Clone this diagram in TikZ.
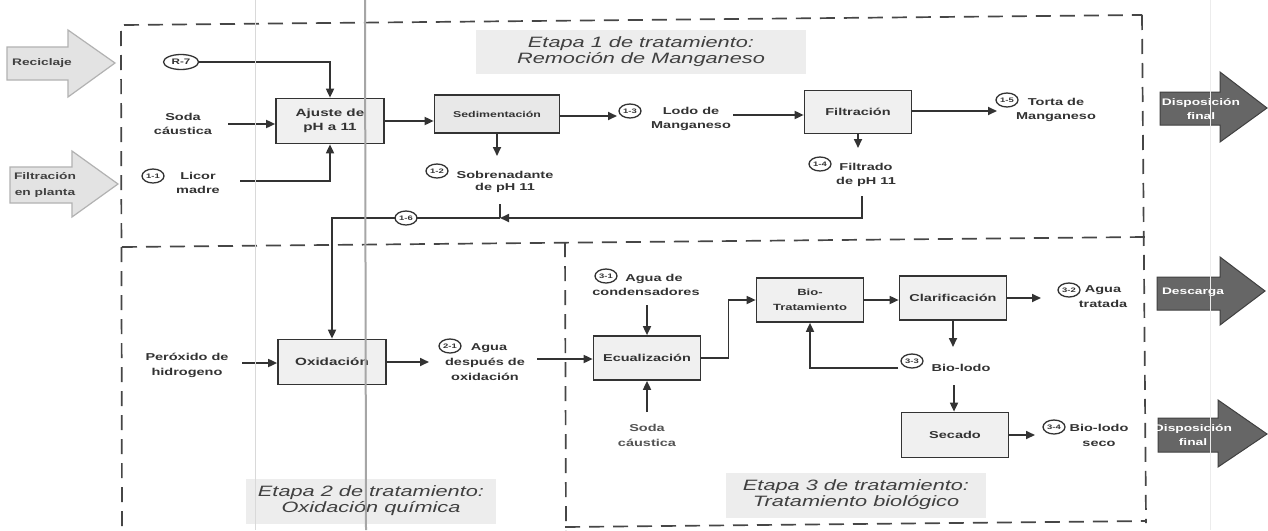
\documentclass[tikz,border=0pt]{standalone}
\usepackage{fontspec}
\setmainfont{Liberation Sans}[FakeStretch=1.45]
\usetikzlibrary{arrows.meta,shapes.geometric,calc}
\definecolor{ink}{HTML}{333333}
\definecolor{dark}{HTML}{666666}
\tikzset{
  box/.style={draw=ink, line width=1.7pt, fill=gray!12, text=ink, align=center, inner sep=1pt,
    font=\bfseries\fontsize{10}{13}\selectfont},
  lbl/.style={text=ink, align=center, inner sep=0pt, font=\bfseries\fontsize{10}{13.5}\selectfont},
  tag/.style={ellipse, draw=ink, line width=1.3pt, fill=white, text=ink, minimum width=22pt,
    minimum height=14pt, inner sep=0pt, font=\bfseries\fontsize{6.5}{7}\selectfont},
  flow/.style={draw=ink, line width=1.7pt, -{Triangle[length=9pt,width=8pt]}},
  link/.style={draw=ink, line width=1.7pt},
  frame/.style={draw=gray!55!black, line width=1.7pt, dash pattern=on 15pt off 9pt},
  ttl/.style={fill=gray!14, text=gray!50!black, align=center, inner sep=0pt,
    font=\itshape\fontsize{15}{16}\selectfont},
  inarrow/.style={fill=gray!22, draw=gray!60, line width=1.2pt},
  outarrow/.style={fill=dark, draw=gray!50!black, line width=1pt},
  intext/.style={text=gray!50!black, align=center, inner sep=0pt, font=\bfseries\fontsize{9.5}{16}\selectfont},
  outtext/.style={text=white, align=center, inner sep=0pt, font=\bfseries\fontsize{9.5}{14.5}\selectfont}
}
\begin{document}
\begin{tikzpicture}[x=1pt,y=-1pt]
\useasboundingbox (0,0) rectangle (1268,530);
\fill[white] (0,0) rectangle (1268,530);

% dashed frames
\draw[frame] (124,25) -- (1142,15);
\draw[frame] (121,31) -- (122,530);
\draw[frame] (122,247) -- (1145,237);
\draw[frame] (1142,15) -- (1146,523);
\draw[frame] (565,527) -- (1146,521);
\draw[frame] (565,242) -- (566,530);

% stage titles
\node[ttl, minimum width=330pt, minimum height=44pt] (ttl1) at (641,52) {Etapa 1 de tratamiento:\\Remoción de Manganeso};
\node[ttl, minimum width=250pt, minimum height=45pt] (ttl2) at (371,501) {Etapa 2 de tratamiento:\\Oxidación química};
\node[ttl, minimum width=260pt, minimum height=45pt] (ttl3) at (856,495) {Etapa 3 de tratamiento:\\Tratamiento biológico};

% input block arrows
\draw[inarrow] (7,47) -- (68,47) -- (68,30) -- (115,63) -- (68,97) -- (68,80) -- (7,80) -- cycle;
\node[intext] (recic) at (42,63) {Reciclaje};
\draw[inarrow] (10,167) -- (72,167) -- (72,151) -- (118,184) -- (72,217) -- (72,203) -- (10,203) -- cycle;
\node[intext] (filtpl) at (45,185) {Filtración\\en planta};

% output block arrows
\draw[outarrow] (1160,92) -- (1220,92) -- (1220,72) -- (1267,108) -- (1220,142) -- (1220,125) -- (1160,125) -- cycle;
\node[outtext] (disp1) at (1201,109) {Disposición\\final};
\draw[outarrow] (1157,277) -- (1220,277) -- (1220,257) -- (1265,291) -- (1220,325) -- (1220,310) -- (1157,310) -- cycle;
\node[outtext] (desc) at (1193,292) {Descarga};
\draw[outarrow] (1158,418) -- (1218,418) -- (1218,400) -- (1267,434) -- (1218,467) -- (1218,452) -- (1158,452) -- cycle;
\node[outtext] (disp2) at (1193,435) {Disposición\\final};

% process boxes
\node[box, minimum width=108pt, minimum height=45pt, font=\bfseries\fontsize{10.5}{14}\selectfont] (ajuste) at (330,121) {Ajuste de\\pH a 11};
\node[box, minimum width=125pt, minimum height=38pt, fill=gray!18, font=\bfseries\fontsize{8.5}{10}\selectfont] (sed) at (497,114) {Sedimentación};
\node[box, minimum width=107pt, minimum height=43pt] (filt) at (858,112) {Filtración};
\node[box, minimum width=108pt, minimum height=45pt, font=\bfseries\fontsize{10.5}{13}\selectfont] (oxid) at (332,362) {Oxidación};
\node[box, minimum width=107pt, minimum height=44pt] (ecual) at (647,358) {Ecualización};
\node[box, minimum width=107pt, minimum height=44pt, font=\bfseries\fontsize{9}{15}\selectfont] (bio) at (810,300) {Bio-\\Tratamiento};
\node[box, minimum width=107pt, minimum height=44pt] (clar) at (953,298) {Clarificación};
\node[box, minimum width=107pt, minimum height=45pt] (secado) at (955,435) {Secado};

% labels
\node[lbl] (soda1) at (183,124) {Soda\\cáustica};
\node[lbl] (licor) at (198,183) {Licor\\madre};
\node[lbl, font=\bfseries\fontsize{10}{12}\selectfont] (sobre) at (505,182) {Sobrenadante\\de pH 11};
\node[lbl] (lodo) at (691,119) {Lodo de\\Manganeso};
\node[lbl] (filtrado) at (866,175) {Filtrado\\de pH 11};
\node[lbl] (torta) at (1056,110) {Torta de\\Manganeso};
\node[lbl, font=\bfseries\fontsize{10}{15}\selectfont] (perox) at (187,365) {Peróxido de\\hidrogeno};
\node[lbl, font=\bfseries\fontsize{10}{15}\selectfont] (agua21) at (485,362) {\hspace*{8pt}Agua\\después de\\oxidación};
\node[lbl, font=\bfseries\fontsize{10}{14}\selectfont] (cond) at (646,285) {\hspace*{16pt}Agua de\\condensadores};
\node[lbl, text=gray!65!black, font=\bfseries\fontsize{10}{15}\selectfont] (soda3) at (647,435) {Soda\\cáustica};
\node[lbl, font=\bfseries\fontsize{10}{15}\selectfont] (tratada) at (1103,297) {Agua\\tratada};
\node[lbl] (biolodo) at (961,368) {Bio-lodo};
\node[lbl, font=\bfseries\fontsize{10}{15}\selectfont] (seco) at (1099,435) {Bio-lodo\\seco};

% free ends
\coordinate (c-sodaA) at (228,124);
\coordinate (c-licor) at (240,181);
\coordinate (c-lodoIn) at (617,116);
\coordinate (c-lodoOut) at (733,115);
\coordinate (c-tortaIn) at (997,111);
\coordinate (c-filtIn) at (860,148);
\coordinate (c-sobreIn) at (497,156);
\coordinate (c-filtOut) at (862,196);
\coordinate (c-join) at (500,218);
\coordinate (c-sobreOut) at (500,204);
\coordinate (c-perox) at (242,363);
\coordinate (c-aguaIn) at (429,362);
\coordinate (c-aguaOut) at (537,359);
\coordinate (c-cond) at (647,305);
\coordinate (c-soda3) at (647,412);
\coordinate (c-tratIn) at (1041,298);
\coordinate (c-bioIn) at (954,347);
\coordinate (c-ret) at (898,368);
\coordinate (c-bioOut) at (954,385);
\coordinate (c-secoIn) at (1035,435);

% tags (R-7 first so connector starts at it)
\node[tag, minimum width=35pt, minimum height=15pt, font=\bfseries\fontsize{8}{9}\selectfont] (r7) at (181,62) {R-7};

% connectors stage 1
\draw[flow] (r7.east) -| (ajuste.north);
\draw[flow] (c-sodaA) -- (c-sodaA -| ajuste.west);
\draw[flow] (c-licor) -| (ajuste.south);
\draw[flow] (ajuste.east) -- (ajuste.east -| sed.west);
\draw[flow] (sed.east |- c-lodoIn) -- (c-lodoIn);
\draw[flow] (c-lodoOut) -- (c-lodoOut -| filt.west);
\draw[flow] (filt.east |- c-tortaIn) -- (c-tortaIn);
\draw[flow] (filt.south) -- (filt.south |- c-filtIn);
\draw[flow] (sed.south) -- (sed.south |- c-sobreIn);
\draw[flow] (c-filtOut) |- (c-join);
\draw[link] (c-sobreOut) -- (c-join);
\draw[flow] (c-join) -| (oxid.north);

% connectors stage 2
\draw[flow] (c-perox) -- (c-perox -| oxid.west);
\draw[flow] (oxid.east |- c-aguaIn) -- (c-aguaIn);
\draw[flow] (c-aguaOut) -- (c-aguaOut -| ecual.west);

% connectors stage 3
\draw[flow] (c-cond) -- (c-cond |- ecual.north);
\draw[flow] (c-soda3) -- (c-soda3 |- ecual.south);
\draw[flow] (ecual.east) -| ($(ecual.east)!.5!(bio.west)$) |- (bio.west);
\draw[flow] (bio.east) -- (bio.east -| clar.west);
\draw[flow] (clar.east |- c-tratIn) -- (c-tratIn);
\draw[flow] (clar.south) -- (clar.south |- c-bioIn);
\draw[flow] (c-ret) -| (bio.south);
\draw[flow] (c-bioOut) -- (c-bioOut |- secado.north);
\draw[flow] (secado.east |- c-secoIn) -- (c-secoIn);

% stream tags
\node[tag] (t11) at (153,176) {1-1};
\node[tag] (t12) at (437,171) {1-2};
\node[tag] (t13) at (630,111) {1-3};
\node[tag] (t14) at (820,164) {1-4};
\node[tag] (t15) at (1007,100) {1-5};
\node[tag] (t16) at (406,218) {1-6};
\node[tag] (t21) at (450,346) {2-1};
\node[tag] (t31) at (606,276) {3-1};
\node[tag] (t32) at (1069,290) {3-2};
\node[tag] (t33) at (912,361) {3-3};
\node[tag] (t34) at (1054,427) {3-4};

% scan lines
\draw[gray!30, line width=1pt] (255,0) -- (255,530);
\draw[gray!70, line width=2pt] (365,0) -- (366,530);
\draw[gray!15, line width=1pt] (1210,0) -- (1210,530);
\end{tikzpicture}
\end{document}
